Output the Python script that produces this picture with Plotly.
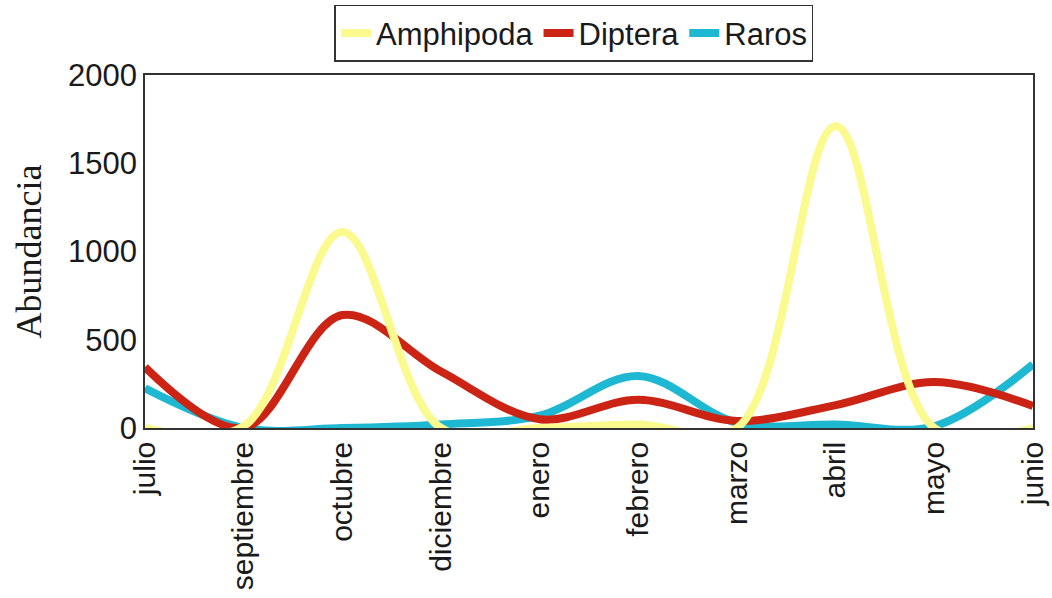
import plotly.graph_objects as go

months = ["julio", "septiembre", "octubre", "diciembre", "enero", "febrero",
          "marzo", "abril", "mayo", "junio"]
amphipoda = [0, 10, 1110, 0, 0, 20, 0, 1710, 0, 0]
diptera = [345, 0, 640, 320, 50, 160, 40, 130, 260, 125]
raros = [225, 0, 0, 20, 70, 295, 30, 20, 10, 360]

xs = list(range(len(months)))

fig = go.Figure()
series = [
    ("Raros", raros, "#1FB8D3", 3),
    ("Diptera", diptera, "#CC2414", 2),
    ("Amphipoda", amphipoda, "#FBFA8E", 1),
]
for name, vals, color, rank in series:
    fig.add_trace(go.Scatter(
        x=xs, y=vals, name=name, mode="lines",
        line=dict(color=color, width=8, shape="spline", smoothing=1.0),
        legendrank=rank,
    ))

fig.update_layout(
    width=1052, height=598,
    margin=dict(l=145, r=19, t=75, b=170),
    paper_bgcolor="white", plot_bgcolor="white",
    font=dict(family="Liberation Sans, Arial", size=31, color="#1a1a1a"),
    showlegend=True,
    legend=dict(
        orientation="h", xref="container", yref="container",
        x=0.5456, xanchor="center", y=0.992, yanchor="top",
        bordercolor="#333333", borderwidth=1.5, bgcolor="white",
        font=dict(size=31), itemwidth=30, tracegroupgap=0,
    ),
    xaxis=dict(
        range=[0, 9], tickmode="array", tickvals=xs, ticktext=months,
        tickangle=-90, showgrid=False, zeroline=False, automargin=False,
        showline=True, linecolor="#333333", linewidth=1.5, mirror=True,
        ticks="", tickfont=dict(size=30),
    ),
    yaxis=dict(
        range=[0, 2000], tickvals=[0, 500, 1000, 1500, 2000],
        showgrid=False, zeroline=False, automargin=False,
        showline=True, linecolor="#333333", linewidth=1.5, mirror=True,
        ticks="", tickfont=dict(size=31),
        title=dict(text="Abundancia",
                   font=dict(family="Liberation Serif, Times New Roman", size=36),
                   standoff=15),
    ),
)

fig.write_html("out.html")
